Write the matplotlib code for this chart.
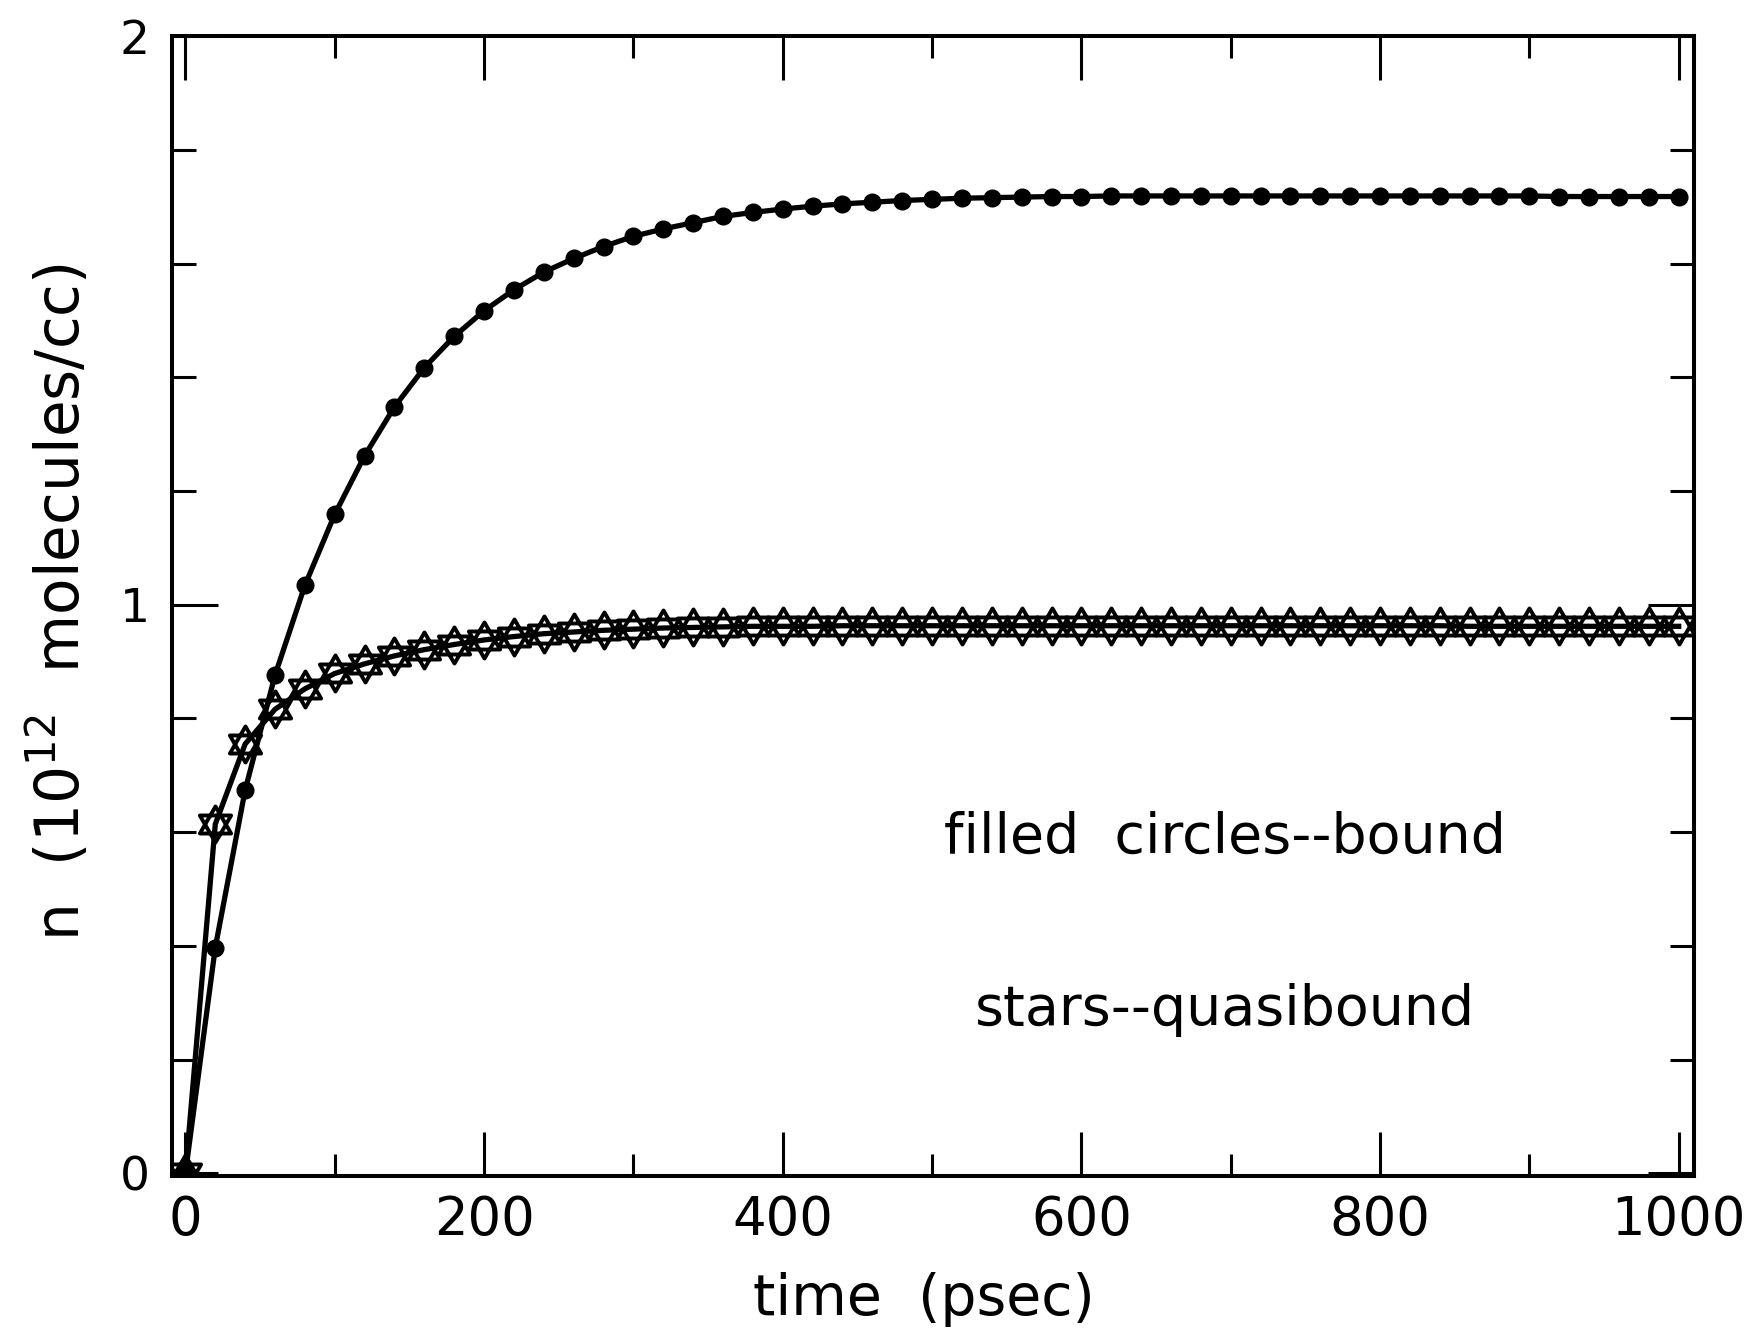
"""Bound and quasibound molecule density vs time"""
import matplotlib.pyplot as plt
from matplotlib.path import Path
from matplotlib.ticker import MultipleLocator, FixedLocator

# time samples (psec)
time_ps = [0, 20, 40, 60, 80, 100, 120, 140, 160, 180,
           200, 220, 240, 260, 280, 300, 320, 340, 360, 380,
           400, 420, 440, 460, 480, 500, 520, 540, 560, 580,
           600, 620, 640, 660, 680, 700, 720, 740, 760, 780,
           800, 820, 840, 860, 880, 900, 920, 940, 960, 980, 1000]

# filled circles -- bound (10^12 molecules/cc)
bound = [0.0, 0.397, 0.674, 0.876, 1.034, 1.159, 1.262, 1.348, 1.417, 1.472,
         1.517, 1.554, 1.585, 1.609, 1.630, 1.648, 1.661, 1.672, 1.683, 1.690,
         1.696, 1.701, 1.705, 1.708, 1.711, 1.713, 1.715, 1.716, 1.717, 1.718,
         1.718, 1.719, 1.719, 1.719, 1.719, 1.719, 1.719, 1.719, 1.719, 1.719,
         1.719, 1.719, 1.719, 1.719, 1.719, 1.719, 1.718, 1.718, 1.718, 1.718, 1.718]

# stars -- quasibound
quasibound = [0.0, 0.614, 0.755, 0.816, 0.852, 0.879, 0.896, 0.910, 0.921, 0.930,
              0.938, 0.944, 0.949, 0.952, 0.955, 0.957, 0.959, 0.960, 0.961, 0.962,
              0.962, 0.962, 0.963, 0.963, 0.963, 0.963, 0.963, 0.963, 0.963, 0.963,
              0.963, 0.963, 0.963, 0.963, 0.963, 0.963, 0.963, 0.963, 0.963, 0.963,
              0.963, 0.963, 0.963, 0.962, 0.962, 0.962, 0.962, 0.962, 0.962, 0.962, 0.962]

x_ticks = [0, 200, 400, 600, 800, 1000]
y_ticks = [0, 1, 2]

plt.rcParams['font.family'] = ['DejaVu Sans']

# six-pointed star: two overlapping triangles
s = 0.866
star = Path([(0, 1), (-s, -0.5), (s, -0.5), (0, 1),
             (0, -1), (-s, 0.5), (s, 0.5), (0, -1)],
            [Path.MOVETO, Path.LINETO, Path.LINETO, Path.CLOSEPOLY,
             Path.MOVETO, Path.LINETO, Path.LINETO, Path.CLOSEPOLY])

fig = plt.figure(figsize=(17.46, 13.41), dpi=100)
ax = fig.add_axes([0.0985, 0.123, 0.8715, 0.850])

ax.plot(time_ps, bound, color='black', lw=3.8, marker='o', ms=12,
        mfc='black', mec='black')
ax.plot(time_ps, quasibound, color='black', lw=3.8, marker=star, ms=26,
        mfc='none', mec='black', mew=2.8)

ax.set_xlim(-9, 1010)
ax.set_ylim(-0.005, 2.0)

ax.xaxis.set_major_locator(FixedLocator(x_ticks))
ax.xaxis.set_minor_locator(MultipleLocator(100))
ax.yaxis.set_major_locator(FixedLocator(y_ticks))
ax.yaxis.set_minor_locator(MultipleLocator(0.2))

for spine in ax.spines.values():
    spine.set_linewidth(2.9)

ax.tick_params(which='both', direction='in', top=True, right=True, width=2.2)
ax.tick_params(axis='x', which='major', length=32, labelsize=38, pad=13)
ax.tick_params(axis='x', which='minor', length=16)
ax.tick_params(axis='y', which='major', length=33, labelsize=34, pad=16)
ax.tick_params(axis='y', which='minor', length=17)

ax.text(0.494, -0.108, 'time  (psec)', transform=ax.transAxes,
        ha='center', va='center', fontsize=41)
ax.text(-0.074, 0.504, r'n  (10$^{12}$  molecules/cc)', transform=ax.transAxes,
        ha='center', va='center', rotation=90, fontsize=43)

ax.text(0.692, 0.297, 'filled  circles--bound', transform=ax.transAxes,
        ha='center', va='center', fontsize=40)
ax.text(0.692, 0.146, 'stars--quasibound', transform=ax.transAxes,
        ha='center', va='center', fontsize=40)

fig.savefig('out.png', dpi=100, facecolor='white')
